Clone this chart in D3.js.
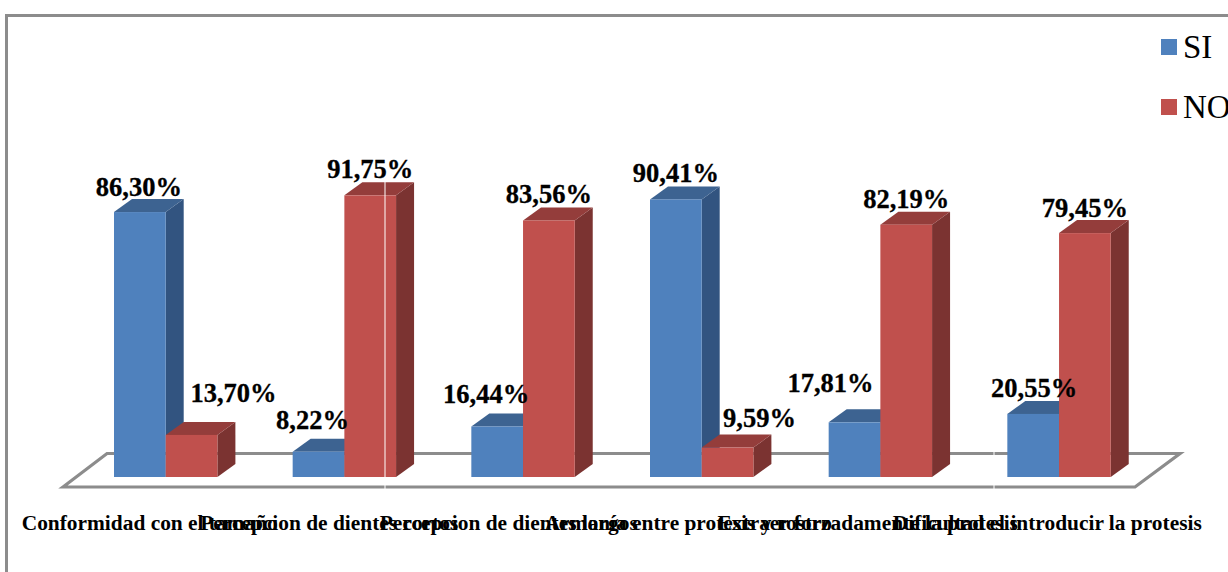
<!DOCTYPE html>
<html><head><meta charset="utf-8">
<script src="https://d3js.org/d3.v7.min.js"></script>
<style>html,body{margin:0;padding:0;background:#fff}svg{display:block}text{font-family:"Liberation Serif",serif;fill:#000}</style>
</head><body><svg id="c" width="1228" height="572"></svg>
<script>
const categories=["Conformidad con el tamaño","Percepcion de dientes cortos","Percepcion de dientes largos","Armonía entre protesis y rostro","Extraer forzadamente la protesis","Dificultad el introducir la protesis"];
const seriesNames=["SI","NO"];
const si=[86.30,8.22,16.44,90.41,17.81,20.55];
const no=[13.70,91.75,83.56,9.59,82.19,79.45];
const fillColors=["#4f81bd","#c0504d"];
const topColors=["#3d6391","#943d3b"];
const sideColors=["#325480","#7b3331"];
// manual data-label offsets from the default spot, as in the source chart
const siLabelShift=[[-1,-16],[-6,-23],[-11,-24],[0,-17],[-24,-30],[1,-17]];
const noLabelShift=[[42,-33],[0,-17.5],[0,-17],[32,-21],[0,-17],[0,-16]];
const svg=d3.select("#c");
const fmt=v=>v.toFixed(2).replace(".",",")+"%";
const x0=d3.scaleBand().domain(categories).range([69,1141]);
const xLabel=d3.scaleBand().domain(categories).range([60,1137]);
const x1=d3.scaleBand().domain(seriesNames).range([45,148.4]);
const y=d3.scaleLinear().domain([0,100]).range([477,170]);
const dx=18,dy=-13;
svg.append("path").attr("d",d3.line()([[6.5,572],[6.5,15.5],[1228,15.5]])).attr("fill","none").attr("stroke","#8c8c8c").attr("stroke-width",3);
svg.append("path").attr("d",d3.line()([[63,487],[107,453.5],[1180,453.5],[1135,487]])+"Z").attr("fill","none").attr("stroke","#8c8c8c").attr("stroke-width",3.2);
svg.append("line").attr("x1",994).attr("x2",994).attr("y1",450).attr("y2",490).attr("stroke","#fff").attr("stroke-width",1);
const g=svg.append("g");
const rows=categories.map((c,i)=>({c,i,vals:[si[i],no[i]]}));
rows.forEach(r=>{
  r.vals.forEach((v,k)=>{
    const s=seriesNames[k],l=x0(r.c)+x1(s),w=x1.bandwidth(),t=y(v),b=y(0);
    g.append("path").attr("d",d3.line()([[l+w,t],[l+w+dx,t+dy],[l+w+dx,b+dy],[l+w,b]])+"Z").attr("fill",sideColors[k]);
    g.append("path").attr("d",d3.line()([[l,t],[l+dx,t+dy],[l+w+dx,t+dy],[l+w,t]])+"Z").attr("fill",topColors[k]);
    g.append("rect").attr("x",l).attr("y",t).attr("width",w).attr("height",b-t).attr("fill",fillColors[k]);
  });
});
svg.append("line").attr("x1",385).attr("x2",385).attr("y1",182).attr("y2",490).attr("stroke","#fff").attr("stroke-width",1);
rows.forEach(r=>{
  r.vals.forEach((v,k)=>{
    const s=seriesNames[k],l=x0(r.c)+x1(s),w=x1.bandwidth(),sh=(k?noLabelShift:siLabelShift)[r.i];
    svg.append("text").attr("x",l+w/2+sh[0]).attr("y",y(v)+sh[1]).attr("text-anchor","middle").attr("font-weight","bold").attr("font-size",26.5).attr("stroke","#000").attr("stroke-width",0.3).text(fmt(v));
  });
});
svg.selectAll("text.cat").data(categories).enter().append("text").attr("class","cat")
 .attr("x",c=>xLabel(c)+xLabel.bandwidth()/2).attr("y",530).attr("text-anchor","middle").attr("font-weight","bold").attr("font-size",21.4).text(c=>c);
const ly=d3.scalePoint().domain(seriesNames).range([47,107]);
seriesNames.forEach((s,k)=>{
  svg.append("rect").attr("x",1161).attr("y",ly(s)-8).attr("width",16).attr("height",16).attr("fill",fillColors[k]);
  svg.append("text").attr("x",1183).attr("y",ly(s)+11).attr("font-size",33).text(s);
});
</script></body></html>
